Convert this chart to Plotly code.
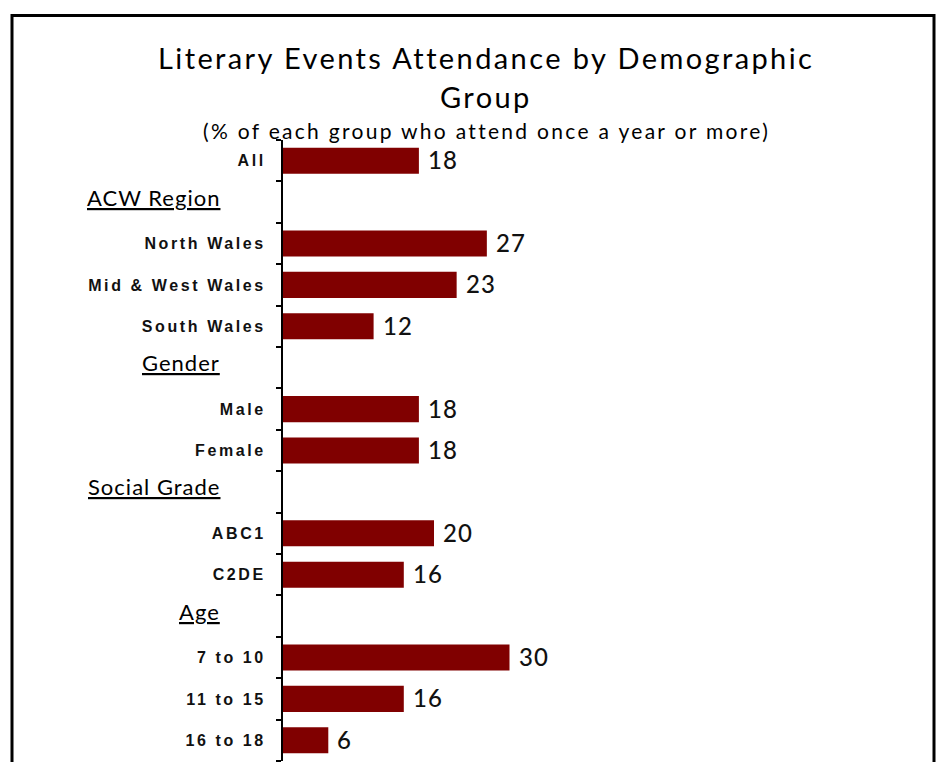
import plotly.graph_objects as go

# Rows top to bottom; section headers have no bar
rows = ["All", "ACW Region", "North Wales", "Mid & West Wales", "South Wales",
        "Gender", "Male", "Female", "Social Grade", "ABC1", "C2DE",
        "Age", "7 to 10", "11 to 15", "16 to 18"]
headers = ["ACW Region", "Gender", "Social Grade", "Age"]
values = [18, None, 27, 23, 12, None, 18, 18, None, 20, 16, None, 30, 16, 6]

title_lines = ["Literary Events Attendance by Demographic", "Group"]
subtitle_text = "(% of each group who attend once a year or more)"

W, H = 941, 762
ML, MR, MT, MB = 283, 16, 140, 1
PW, PH = W - ML - MR, H - MT - MB
XMAX = PW / 7.55

def px_x(px):
    return (px - ML) / PW

def px_y(py):
    return 1 - (py - MT) / PH

def spaced(text, ls):
    return '<span style="letter-spacing:%spx">%s</span>' % (ls, text)

idx = list(range(len(rows)))
bar_idx = [i for i, v in zip(idx, values) if v is not None]
bar_vals = [v for v in values if v is not None]
bar_lbls = [r for r, v in zip(rows, values) if v is not None]

fig = go.Figure()
fig.add_trace(go.Bar(
    x=bar_vals, y=bar_idx, orientation="h",
    marker=dict(color="#800000", line=dict(width=0)),
    width=0.63, hoverinfo="skip", showlegend=False,
))

# value labels at the bar ends
for i, v in zip(bar_idx, bar_vals):
    fig.add_annotation(
        x=v, y=i, xref="x", yref="y", text=spaced(str(v), 1), showarrow=False,
        xanchor="left", xshift=7, yshift=1,
        font=dict(family="Lato", size=24, color="#111111", weight=500),
    )

# underlined section headers
for h in headers:
    fig.add_annotation(
        x=px_x(222), y=rows.index(h), xref="paper", yref="y", text=spaced(h, 1),
        showarrow=False, xanchor="right", yshift=5,
        font=dict(family="Lato", size=22, color="black", lineposition="under"),
    )

# title lines and subtitle
for txt, cy, sz, ls in [(title_lines[0], 57, 29, 2.4), (title_lines[1], 97, 29, 2.4),
                        (subtitle_text, 131, 21, 2.3)]:
    fig.add_annotation(
        x=px_x(486), y=px_y(cy), xref="paper", yref="paper", text=spaced(txt, ls),
        showarrow=False, xanchor="center", yanchor="middle",
        font=dict(family="Lato", size=sz, color="black"),
    )

# frame around the chart
fig.add_shape(type="rect", xref="paper", yref="paper",
              x0=px_x(12), x1=px_x(934), y0=px_y(800), y1=px_y(15.5),
              line=dict(color="black", width=3), fillcolor="rgba(0,0,0,0)",
              layer="below")

fig.update_layout(
    width=W, height=H,
    margin=dict(l=ML, r=MR, t=MT, b=MB),
    paper_bgcolor="white", plot_bgcolor="white",
    xaxis=dict(range=[0, XMAX], visible=False, fixedrange=True),
    yaxis=dict(
        range=[14.5, -0.5], tickmode="array", tickvals=bar_idx,
        ticktext=[spaced(t, 2.6) for t in bar_lbls],
        ticks="", ticklabelstandoff=12, showgrid=False, zeroline=False,
        showline=True, linecolor="black", linewidth=2,
        tickfont=dict(family="Liberation Sans", size=16, color="#111111", weight="bold"),
        minor=dict(tickmode="linear", tick0=0.5, dtick=1, ticks="outside",
                   ticklen=5, tickwidth=2, tickcolor="black", showgrid=False),
    ),
    bargap=0.37,
)

fig.write_html("out.html")
